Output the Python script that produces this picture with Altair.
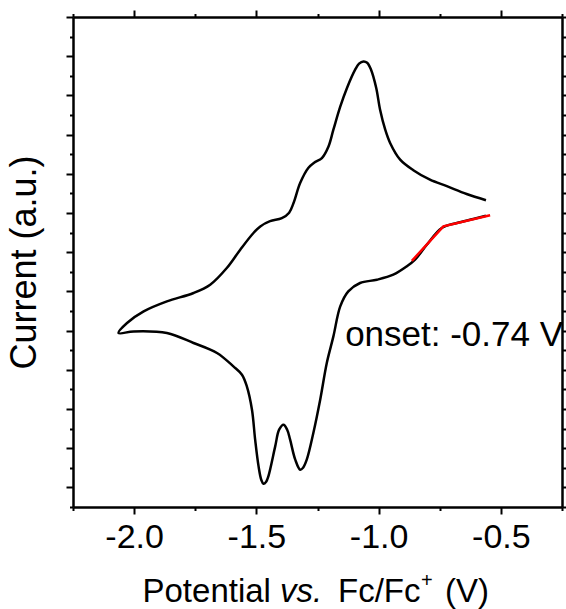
import altair as alt
import pandas as pd

# cyclic voltammogram trace (V vs Fc/Fc+, arbitrary current units)
potential = [-0.561, -0.640, -0.721, -0.790, -0.858, -0.912, -0.953, -0.973, -0.994, -1.010,
             -1.031, -1.047, -1.062, -1.080, -1.096, -1.129, -1.157, -1.185, -1.205, -1.232,
             -1.264, -1.287, -1.321, -1.348, -1.366, -1.396, -1.444, -1.484, -1.512, -1.566,
             -1.621, -1.689, -1.757, -1.866, -1.961, -2.029, -2.064,
             -2.002, -1.866, -1.757, -1.661, -1.594, -1.559, -1.539, -1.518, -1.505, -1.491,
             -1.480, -1.471, -1.460, -1.451, -1.423, -1.407, -1.389, -1.374, -1.362, -1.341,
             -1.321, -1.309, -1.294, -1.267, -1.239, -1.212, -1.185, -1.157, -1.124, -1.076,
             -1.007, -0.940, -0.885, -0.851, -0.803, -0.742, -0.680, -0.613, -0.561]
current = [7.327, 7.485, 7.684, 7.849, 8.092, 8.360, 8.786, 9.125, 9.635, 10.196,
           10.656, 10.834, 10.867, 10.809, 10.656, 10.196, 9.712, 9.125, 8.699, 8.403,
           8.283, 8.156, 7.765, 7.255, 7.008, 6.867, 6.791, 6.658, 6.490, 6.064,
           5.597, 5.171, 4.959, 4.745, 4.490, 4.194, 3.939,
           3.980, 3.939, 3.684, 3.429, 3.087, 2.875, 2.577, 1.982, 1.217, 0.536,
           0.196, 0.094, 0.145, 0.281, 1.046, 1.472, 1.599, 1.472, 1.217, 0.707,
           0.452, 0.503, 0.707, 1.388, 2.237, 3.173, 3.852, 4.617, 5.000, 5.214,
           5.298, 5.426, 5.638, 5.809, 6.191, 6.617, 6.745, 6.847, 6.931]

# onset fit segments (red)
fit_potential = [-0.864, -0.735, -0.544]
fit_current = [5.78, 6.658, 6.944]

onset_label = ["onset: -0.74 V"]
onset_pos_x = [-1.137]
onset_pos_y = [3.615]

x_ticks = [-2.25, -2.0, -1.75, -1.5, -1.25, -1.0, -0.75, -0.5, -0.25]
y_ticks = [-0.5, 0, 0.5, 1, 1.5, 2, 2.5, 3, 3.5, 4, 4.5, 5, 5.5, 6, 6.5, 7, 7.5,
           8, 8.5, 9, 9.5, 10, 10.5, 11, 11.5, 12]

FONT = "Liberation Sans"
FS = 34
TFS = 33

df = pd.DataFrame({"potential": potential, "current": current, "i": list(range(len(potential)))})
fit_df = pd.DataFrame({"potential": fit_potential, "current": fit_current, "i": [0, 1, 2]})
onset_df = pd.DataFrame({"potential": onset_pos_x, "current": onset_pos_y, "label": onset_label})

x_scale = alt.Scale(domain=[-2.25, -0.25], nice=False, zero=False)
y_scale = alt.Scale(domain=[-0.5, 12], nice=False, zero=False)

mx = "abs(datum.value*2 - round(datum.value*2)) < 0.001"
my = "abs(datum.value - round(datum.value)) < 0.001"


def xaxis(orient, labels):
    return alt.Axis(orient=orient, values=x_ticks, labels=labels, format=".1f",
                    labelExpr=f"({mx}) ? replace(datum.label, '\u2212', '-') : ''",
                    tickSize={"condition": {"test": mx, "value": 7}, "value": 3.5},
                    grid=False, domainColor="black", domainWidth=2.5,
                    tickColor="black", tickWidth=2, labelFontSize=FS, labelFont=FONT,
                    labelColor="black", labelPadding=6, labelFlush=False,
                    labelOverlap=False, labelBound=False)


def yaxis(orient, title):
    return alt.Axis(orient=orient, values=y_ticks, labels=False,
                    tickSize={"condition": {"test": my, "value": 7}, "value": 3.5},
                    grid=False, domainColor="black", domainWidth=2.5,
                    tickColor="black", tickWidth=2, title=title,
                    titleFont=FONT, titleFontSize=36, titleFontWeight="normal",
                    titleColor="black", titlePadding=22)


curve = alt.Chart(df).mark_line(color="black", strokeWidth=2.5, interpolate="catmull-rom").encode(
    x=alt.X("potential:Q", scale=x_scale, axis=xaxis("bottom", True), title=""),
    y=alt.Y("current:Q", scale=y_scale, axis=yaxis("left", "Current (a.u.)")),
    order="i:Q",
)

fit = alt.Chart(fit_df).mark_line(color="#ff0000", strokeWidth=2.5).encode(
    x=alt.X("potential:Q", scale=x_scale, axis=xaxis("top", False), title=""),
    y=alt.Y("current:Q", scale=y_scale, axis=yaxis("right", "")),
    order="i:Q",
)

onset = alt.Chart(onset_df).mark_text(align="left", baseline="alphabetic", font=FONT,
                                       fontSize=35, color="black").encode(
    x=alt.X("potential:Q", scale=x_scale, axis=None),
    y=alt.Y("current:Q", scale=y_scale, axis=None),
    text="label:N",
)


# x-axis title with italic "vs." and superscript "+"
def piece(txt, px, py, size=TFS, style="normal"):
    return alt.Chart(pd.DataFrame({"t": [txt]})).mark_text(
        align="left", baseline="alphabetic", font=FONT, fontSize=size,
        fontStyle=style, color="black").encode(
        x=alt.value(px), y=alt.value(py), text="t:N")


title_parts = [
    piece("Potential", 69.5, 585.3),
    piece("vs.", 207, 585.3, style="italic"),
    piece("Fc/Fc", 265, 585.3),
    piece("+", 348, 570, size=20),
    piece("(V)", 372, 585.3),
]

chart = alt.layer(curve, fit, onset, *title_parts).resolve_axis(
    x="independent", y="independent"
).properties(
    width=489, height=490,
    autosize=alt.AutoSizeParams(type="none"),
    padding={"left": 73, "top": 17, "right": 4, "bottom": 102},
).configure_view(stroke=None).configure(background="white")

chart.save("out.html", embed_options={"renderer": "svg", "actions": False})
